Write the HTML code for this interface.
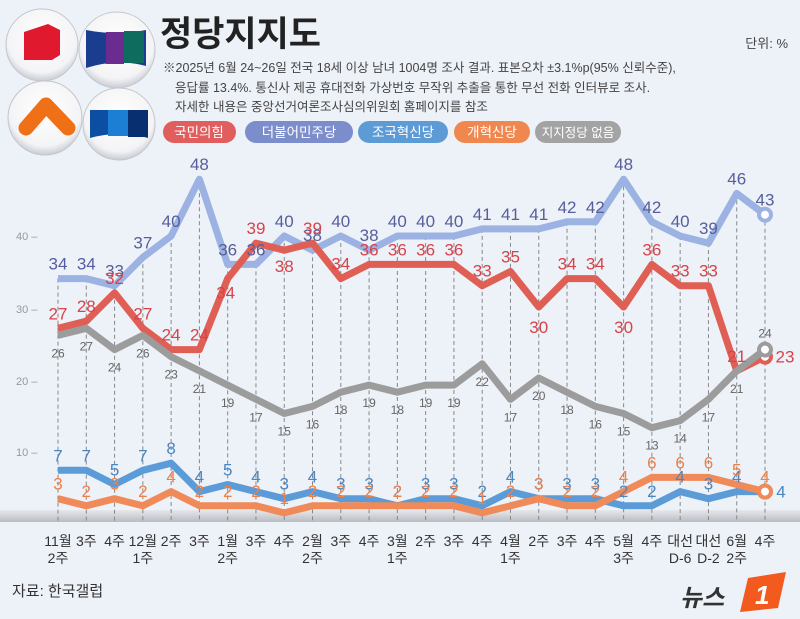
<!DOCTYPE html><html><head><meta charset="utf-8"><style>
body{margin:0;width:800px;height:619px;overflow:hidden;background:#edf1f8;font-family:"Liberation Sans","Noto Sans CJK KR",sans-serif}
</style></head><body>
<svg width="800" height="619" xmlns="http://www.w3.org/2000/svg" style="position:absolute;left:0;top:0">
<defs><radialGradient id="g" cx="50%" cy="40%" r="60%"><stop offset="0" stop-color="#fff"/><stop offset="0.8" stop-color="#f4f4f6"/><stop offset="1" stop-color="#c8ccd4"/></radialGradient>
<linearGradient id="band" x1="0" y1="0" x2="0" y2="1"><stop offset="0" stop-color="#e6e8ec"/><stop offset="1" stop-color="#b9bcc2"/></linearGradient></defs>
<circle cx="42" cy="45" r="36" fill="url(#g)" stroke="#c4c6cc"/>
<path d="M24 32 L48 24 L60 30 L60 55 L52 60 L24 60Z" fill="#e0192f"/>
<circle cx="117" cy="50" r="38" fill="url(#g)" stroke="#c4c6cc"/>
<path d="M86 30 Q117 36 146 30 L146 66 Q117 58 86 68Z" fill="#1a3d8f"/><rect x="106" y="32" width="18" height="32" fill="#6a2d8f"/><rect x="124" y="31" width="20" height="32" fill="#0e6c5e"/>
<circle cx="45" cy="118" r="37" fill="url(#g)" stroke="#c4c6cc"/>
<path d="M26 128 L46 105 L68 128" stroke="#f07018" stroke-width="15" fill="none" stroke-linecap="round" stroke-linejoin="round"/>
<circle cx="119" cy="124" r="36" fill="url(#g)" stroke="#c4c6cc"/>
<path d="M90 110 L148 110 L148 138 Q119 130 90 138Z" fill="#0b4ea2"/><rect x="108" y="110" width="20" height="26" fill="#1c7fd4"/><rect x="128" y="110" width="20" height="27" fill="#083070"/>
<text x="160" y="46" font-size="35" font-weight="bold" fill="#222">정당지지도</text>
<text x="788" y="48" font-size="13" fill="#444" text-anchor="end">단위: %</text>
<g font-size="12.5" fill="#444"><text x="163" y="72">※2025년 6월 24~26일 전국 18세 이상 남녀 1004명 조사 결과. 표본오차 ±3.1%p(95% 신뢰수준),</text>
<text x="175" y="92">응답률 13.4%. 통신사 제공 휴대전화 가상번호 무작위 추출을 통한 무선 전화 인터뷰로 조사.</text>
<text x="175" y="111">자세한 내용은 중앙선거여론조사심의위원회 홈페이지를 참조</text></g>
<g font-size="13.5" fill="#fff" text-anchor="middle">
<rect x="163" y="121" width="73" height="22" rx="11" fill="#e05e5e"/><text x="199" y="137">국민의힘</text>
<rect x="245" y="121" width="108" height="22" rx="11" fill="#7c8dcc"/><text x="299" y="137">더불어민주당</text>
<rect x="358" y="121" width="90" height="22" rx="11" fill="#5d9bd6"/><text x="403" y="137">조국혁신당</text>
<rect x="454" y="121" width="76" height="22" rx="11" fill="#f0874f"/><text x="492" y="137">개혁신당</text>
<rect x="535" y="121" width="86" height="22" rx="11" fill="#a3a3a3"/><text x="578" y="137" font-size="12.5">지지정당 없음</text></g>
<rect x="0" y="510" width="800" height="12" fill="url(#band)"/>
<g font-size="11" fill="#999"><text x="16" y="240">40 –</text><text x="16" y="313">30 –</text><text x="16" y="385">20 –</text><text x="16" y="456">10 –</text></g>
<g id="c"></g>
<text x="12" y="596" font-size="15" fill="#333">자료: 한국갤럽</text>
<text x="680" y="606" font-size="24" font-weight="bold" font-style="italic" fill="#333">뉴스</text>
<path d="M748 578 L786 572 L778 608 L740 612Z" fill="#f25a1e"/><text x="755" y="604" font-size="26" font-weight="bold" font-style="italic" fill="#fff">1</text>
</svg>
<script>
const X=i=>58+i*28.28,Y=v=>236+(40-v)*7.1;
const S=[
{d:[34,34,33,37,40,48,36,36,40,38,40,38,40,40,40,41,41,41,42,42,48,42,40,39,46,43],c:"#9bb2e2",t:"#575e9c",o:-1,p:{}},
{d:[27,28,32,27,24,24,34,39,38,39,34,36,36,36,36,33,35,30,34,34,30,36,33,33,21,23],c:"#e05f55",t:"#d8434a",o:-1,p:{8:[0,22],17:[0,26],20:[0,26],25:[20,6],6:[-2,20]}},
{d:[26,27,24,26,23,21,19,17,15,16,18,19,18,19,19,22,17,20,18,16,15,13,14,17,21,24],c:"#9c9c9c",t:"#666",o:1,f:12,p:{25:[0,-12]}},
{d:[7,7,5,7,8,4,5,4,3,4,3,3,2,3,3,2,4,3,3,3,2,2,4,3,4,4],c:"#5b9bd8",t:"#4a86bf",o:-1,p:{25:[16,6]}},
{d:[3,2,3,2,4,2,2,2,1,2,2,2,2,2,2,1,2,3,2,2,4,6,6,6,5,4],c:"#f08a58",t:"#ef8048",o:-1,p:{}}];
const labs=[["11월","2주"],["3주"],["4주"],["12월","1주"],["2주"],["3주"],["1월","2주"],["3주"],["4주"],["2월","2주"],["3주"],["4주"],["3월","1주"],["2주"],["3주"],["4주"],["4월","1주"],["2주"],["3주"],["4주"],["5월","3주"],["4주"],["대선","D-6"],["대선","D-2"],["6월","2주"],["4주"]];
let h="";
for(let i=0;i<26;i++){h+=`<line x1="${X(i)}" y1="${Y(S[0].d[i])}" x2="${X(i)}" y2="522" stroke="#888" stroke-dasharray="4 3" stroke-width="1"/>`;
labs[i].forEach((l,j)=>h+=`<text x="${X(i)}" y="${546+j*17}" font-size="14" fill="#333" text-anchor="middle">${l}</text>`);}
S.forEach(s=>{h+=`<polyline points="${s.d.map((v,i)=>X(i)+","+Y(v)).join(" ")}" fill="none" stroke="${s.c}" stroke-width="7" stroke-linejoin="round"/>`;
h+=`<circle cx="${X(25)}" cy="${Y(s.d[25])}" r="6" fill="#fff" stroke="${s.c}" stroke-width="4"/>`;});
S.forEach(s=>{s.d.forEach((v,i)=>{let dx=0,dy=s.o<0?-9:22;if(s.p[i]){dx=s.p[i][0];dy=s.p[i][1];}h+=`<text x="${X(i)+dx}" y="${Y(v)+dy}" font-size="${s.f||17}" fill="${s.t}" text-anchor="middle">${v}</text>`;});});
document.getElementById("c").innerHTML=h;
</script>
</body></html>
